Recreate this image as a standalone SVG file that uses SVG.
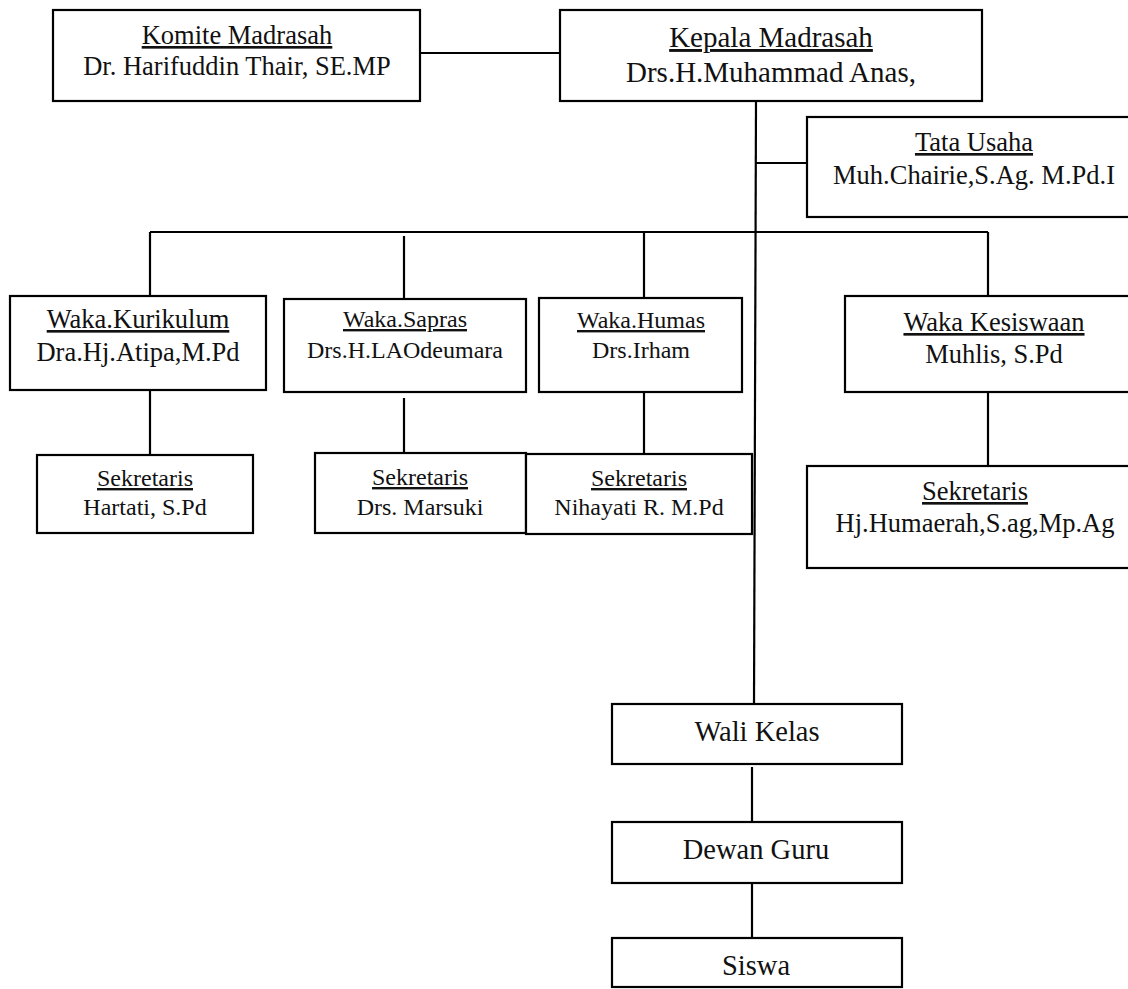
<svg xmlns="http://www.w3.org/2000/svg" width="1128" height="989" viewBox="0 0 1128 989" font-family="Liberation Serif, DejaVu Serif, serif">
<style>
rect{fill:#fff;stroke:#000;stroke-width:2.2}
line{stroke:#000;stroke-width:2.2}
text{font-family:'Liberation Serif','DejaVu Serif',serif;fill:#111;text-anchor:middle}
.u{text-decoration:underline}
.f26{font-size:26.5px}
.f24{font-size:24px}
.f29{font-size:29px}
.f28{font-size:28.5px}
</style>
<rect width="1128" height="989" style="fill:#fff;stroke:none"/>
<g id="connectors">
<line x1="420" y1="53" x2="560" y2="53"/>
<line x1="756" y1="101" x2="754" y2="704"/>
<line x1="756" y1="163" x2="807" y2="163"/>
<line x1="150" y1="232" x2="988" y2="232"/>
<line x1="150" y1="232" x2="150" y2="296"/>
<line x1="404" y1="236" x2="404" y2="299"/>
<line x1="644" y1="232" x2="644" y2="298"/>
<line x1="988" y1="232" x2="988" y2="296"/>
<line x1="150" y1="390" x2="150" y2="455"/>
<line x1="404" y1="398" x2="404" y2="453"/>
<line x1="644" y1="392" x2="644" y2="454"/>
<line x1="988" y1="392" x2="988" y2="466"/>
<line x1="752" y1="767" x2="752" y2="822"/>
<line x1="752" y1="883" x2="752" y2="938"/>
</g>
<g id="komite">
<rect x="53" y="10" width="367" height="91"/>
<text x="237" y="44" class="f26 u">Komite Madrasah</text>
<text x="237" y="75" class="f26">Dr. Harifuddin Thair, SE.MP</text>
</g>
<g id="kepala">
<rect x="560" y="10" width="422" height="91"/>
<text x="771" y="47" class="f29 u">Kepala Madrasah</text>
<text x="771" y="82" class="f29">Drs.H.Muhammad Anas,</text>
</g>
<g id="tata-usaha">
<rect x="807" y="117" width="340" height="100"/>
<text x="974" y="151" class="f26 u">Tata Usaha</text>
<text x="974" y="184" class="f26">Muh.Chairie,S.Ag. M.Pd.I</text>
</g>
<g id="waka-kurikulum">
<rect x="10" y="296" width="256" height="94"/>
<text x="138" y="328" class="f26 u">Waka.Kurikulum</text>
<text x="138" y="361" class="f26">Dra.Hj.Atipa,M.Pd</text>
</g>
<g id="waka-sapras">
<rect x="284" y="299" width="242" height="93"/>
<text x="405" y="327" class="f24 u">Waka.Sapras</text>
<text x="405" y="358" class="f24">Drs.H.LAOdeumara</text>
</g>
<g id="waka-humas">
<rect x="539" y="298" width="203" height="94"/>
<text x="641" y="328" class="f24 u">Waka.Humas</text>
<text x="641" y="358" class="f24">Drs.Irham</text>
</g>
<g id="waka-kesiswaan">
<rect x="845" y="296" width="298" height="96"/>
<text x="994" y="331" class="f26 u">Waka Kesiswaan</text>
<text x="994" y="363" class="f26">Muhlis, S.Pd</text>
</g>
<g id="sekretaris-kurikulum">
<rect x="37" y="455" width="216" height="78"/>
<text x="145" y="486" class="f24 u">Sekretaris</text>
<text x="145" y="515" class="f24">Hartati, S.Pd</text>
</g>
<g id="sekretaris-sapras">
<rect x="315" y="453" width="211" height="80"/>
<text x="420" y="485" class="f24 u">Sekretaris</text>
<text x="420" y="515" class="f24">Drs. Marsuki</text>
</g>
<g id="sekretaris-humas">
<rect x="526" y="454" width="226" height="80"/>
<text x="639" y="486" class="f24 u">Sekretaris</text>
<text x="639" y="515" class="f24">Nihayati R. M.Pd</text>
</g>
<g id="sekretaris-kesiswaan">
<rect x="807" y="466" width="334" height="102"/>
<text x="975" y="500" class="f26 u">Sekretaris</text>
<text x="975" y="532" class="f26">Hj.Humaerah,S.ag,Mp.Ag</text>
</g>
<g id="wali-kelas">
<rect x="612" y="704" width="290" height="60"/>
<text x="757" y="741" class="f28">Wali Kelas</text>
</g>
<g id="dewan-guru">
<rect x="612" y="822" width="290" height="61"/>
<text x="756" y="859" class="f28">Dewan Guru</text>
</g>
<g id="siswa">
<rect x="612" y="938" width="290" height="49"/>
<text x="756" y="975" class="f28">Siswa</text>
</g>
</svg>
